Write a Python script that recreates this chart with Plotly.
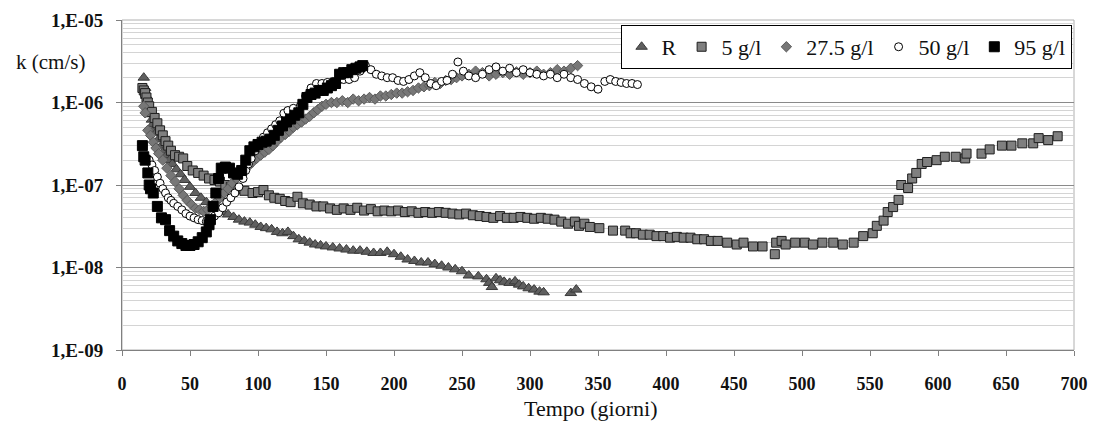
"""
Permeabilita k nel tempo per diverse concentrazioni (recreated with Plotly).
"""

import plotly.graph_objects as go

SERIF = "Liberation Serif"
W, H = 1097, 425
M_L, M_R, M_T, M_B = 122, 23, 20, 75

# ── Data ─────────────────────────────────────────────────────────────────────
r_days = [16, 17, 18, 19, 20, 21, 22, 23, 24, 25, 27, 29, 31, 33, 35, 37, 40,
          43, 46, 50, 54, 58, 62, 66, 70, 74, 78, 82, 86, 90, 94, 98, 102, 106,
          110, 114, 118, 122, 126, 130, 134, 138, 142, 146, 150, 155, 160, 165,
          170, 175, 180, 185, 190, 195, 200, 205, 210, 215, 220, 225, 230, 235,
          240, 245, 250, 255, 262, 268, 270, 272, 275, 278, 281, 285, 289, 292,
          295, 299, 303, 307, 310, 330, 334]
r_k = [2.0e-6, 1.5e-6, 1.2e-6, 1.0e-6, 8.5e-7, 7.2e-7, 6.2e-7, 5.5e-7, 4.8e-7,
       4.3e-7, 3.6e-7, 3.0e-7, 2.6e-7, 2.3e-7, 2.0e-7, 1.8e-7, 1.55e-7, 1.35e-7,
       1.15e-7, 9.5e-8, 8.0e-8, 7.0e-8, 6.2e-8, 5.6e-8, 5.1e-8, 4.7e-8, 4.4e-8,
       4.1e-8, 3.8e-8, 3.6e-8, 3.5e-8, 3.3e-8, 3.1e-8, 3.0e-8, 2.9e-8, 2.7e-8,
       2.6e-8, 2.7e-8, 2.4e-8, 2.2e-8, 2.1e-8, 2.0e-8, 1.9e-8, 1.85e-8, 1.8e-8,
       1.75e-8, 1.7e-8, 1.65e-8, 1.6e-8, 1.6e-8, 1.55e-8, 1.5e-8, 1.5e-8,
       1.55e-8, 1.45e-8, 1.35e-8, 1.25e-8, 1.2e-8, 1.15e-8, 1.15e-8, 1.1e-8,
       1.05e-8, 1.0e-8, 9.5e-9, 9.0e-9, 8.0e-9, 7.8e-9, 7.2e-9, 6.5e-9, 5.8e-9,
       7.4e-9, 7.0e-9, 6.7e-9, 6.5e-9, 6.8e-9, 6.2e-9, 5.9e-9, 5.6e-9, 5.4e-9,
       5.1e-9, 5.0e-9, 4.9e-9, 5.4e-9]

c5_days = [15, 16, 17, 18, 19, 20, 22, 24, 26, 28, 30, 32, 34, 36, 39, 42, 45,
           48, 52, 56, 60, 64, 68, 72, 76, 80, 85, 90, 96, 100, 104, 108, 112,
           116, 120, 124, 129, 133, 138, 143, 148, 153, 158, 163, 168, 173, 178,
           183, 188, 193, 198, 203, 208, 213, 218, 223, 228, 233, 238, 243, 248,
           253, 258, 263, 268, 273, 278, 283, 288, 293, 298, 303, 308, 313, 318,
           323, 328, 333, 336, 340, 344, 351, 361, 370, 374, 378, 383, 388, 393,
           398, 403, 408, 413, 418, 423, 428, 433, 438, 445, 452, 457, 464, 471,
           480, 481, 485, 488, 495, 502, 508, 515, 523, 530, 538, 545, 552, 555,
           560, 563, 567, 571, 573, 578, 581, 584, 588, 592, 599, 605, 613, 620,
           621, 632, 638, 647, 654, 662, 670, 674, 681, 688]
c5_k = [1.5e-6, 1.4e-6, 1.3e-6, 1.15e-6, 1.0e-6, 9.0e-7, 7.7e-7, 6.5e-7, 5.6e-7,
        4.6e-7, 4.0e-7, 3.4e-7, 3.0e-7, 2.6e-7, 2.3e-7, 2.2e-7, 2.1e-7, 1.7e-7,
        1.5e-7, 1.4e-7, 1.3e-7, 1.2e-7, 1.15e-7, 1.1e-7, 1.0e-7, 9.5e-8, 9.0e-8,
        8.5e-8, 8.0e-8, 8.2e-8, 8.7e-8, 7.5e-8, 7.0e-8, 6.8e-8, 6.4e-8, 6.2e-8,
        7.2e-8, 6.0e-8, 5.8e-8, 5.5e-8, 5.5e-8, 5.2e-8, 5.0e-8, 5.2e-8, 5.0e-8,
        5.3e-8, 4.9e-8, 5.1e-8, 4.8e-8, 4.9e-8, 4.8e-8, 4.9e-8, 4.7e-8, 4.8e-8,
        4.6e-8, 4.7e-8, 4.6e-8, 4.7e-8, 4.6e-8, 4.5e-8, 4.4e-8, 4.5e-8, 4.3e-8,
        4.2e-8, 4.1e-8, 4.0e-8, 4.2e-8, 4.0e-8, 4.0e-8, 4.1e-8, 4.0e-8, 3.9e-8,
        4.0e-8, 3.9e-8, 3.8e-8, 3.6e-8, 3.4e-8, 3.6e-8, 3.2e-8, 3.4e-8, 3.1e-8,
        3.0e-8, 2.8e-8, 2.8e-8, 2.6e-8, 2.6e-8, 2.5e-8, 2.5e-8, 2.4e-8, 2.4e-8,
        2.3e-8, 2.35e-8, 2.3e-8, 2.3e-8, 2.2e-8, 2.2e-8, 2.1e-8, 2.1e-8, 2.0e-8,
        1.9e-8, 2.0e-8, 1.8e-8, 1.8e-8, 1.45e-8, 2.0e-8, 2.1e-8, 1.9e-8, 2.0e-8,
        2.0e-8, 1.9e-8, 2.0e-8, 2.0e-8, 1.9e-8, 2.0e-8, 2.4e-8, 2.6e-8, 3.2e-8,
        3.7e-8, 4.7e-8, 5.4e-8, 6.6e-8, 1.0e-7, 9.2e-8, 1.2e-7, 1.4e-7, 1.8e-7,
        1.9e-7, 2.0e-7, 2.2e-7, 2.2e-7, 2.1e-7, 2.4e-7, 2.4e-7, 2.7e-7, 3.0e-7,
        3.0e-7, 3.2e-7, 3.2e-7, 3.7e-7, 3.5e-7, 3.9e-7]

c27_days = [16, 17, 19, 21, 23, 25, 27, 30, 33, 36, 39, 42, 45, 48, 51, 54, 57,
            60, 63, 66, 69, 72, 75, 78, 81, 84, 87, 90, 93, 96, 99, 102, 105,
            108, 111, 114, 117, 120, 123, 126, 129, 132, 135, 138, 141, 144,
            147, 150, 154, 158, 162, 166, 170, 174, 178, 182, 186, 190, 194,
            198, 202, 206, 210, 214, 218, 222, 226, 230, 234, 238, 242, 246,
            250, 255, 260, 265, 270, 275, 280, 285, 290, 295, 300, 305, 310,
            315, 320, 325, 330, 335]
c27_k = [9.0e-7, 7.5e-7, 4.6e-7, 4.0e-7, 3.3e-7, 2.8e-7, 2.4e-7, 2.0e-7, 1.6e-7,
         1.3e-7, 1.1e-7, 9.0e-8, 7.5e-8, 6.5e-8, 5.8e-8, 5.2e-8, 5.0e-8, 4.8e-8,
         5.0e-8, 5.5e-8, 6.2e-8, 7.0e-8, 8.0e-8, 9.0e-8, 1.05e-7, 1.2e-7,
         1.35e-7, 1.5e-7, 1.7e-7, 1.9e-7, 2.1e-7, 2.3e-7, 2.5e-7, 2.7e-7, 3.0e-7,
         3.4e-7, 3.8e-7, 4.1e-7, 4.5e-7, 5.0e-7, 5.4e-7, 5.8e-7, 6.3e-7, 6.8e-7,
         7.5e-7, 8.2e-7, 9.0e-7, 9.5e-7, 1.0e-6, 1.0e-6, 1.05e-6, 1.0e-6, 1.1e-6,
         1.05e-6, 1.1e-6, 1.15e-6, 1.1e-6, 1.2e-6, 1.2e-6, 1.25e-6, 1.3e-6,
         1.3e-6, 1.35e-6, 1.4e-6, 1.5e-6, 1.55e-6, 1.6e-6, 1.75e-6, 1.7e-6,
         1.85e-6, 1.9e-6, 2.0e-6, 2.1e-6, 2.2e-6, 2.4e-6, 2.3e-6, 2.1e-6, 2.2e-6,
         2.3e-6, 2.2e-6, 2.35e-6, 2.2e-6, 2.3e-6, 2.4e-6, 2.2e-6, 2.3e-6, 2.5e-6,
         2.4e-6, 2.6e-6, 2.8e-6]

c50_days = [20, 22, 24, 26, 28, 30, 32, 34, 36, 38, 41, 44, 47, 50, 53, 56, 59,
            62, 65, 68, 71, 74, 77, 80, 83, 86, 89, 91, 93, 95, 98, 101, 104,
            107, 110, 113, 116, 119, 122, 126, 131, 135, 139, 143, 147, 151, 155,
            159, 163, 167, 171, 175, 179, 183, 187, 191, 195, 199, 203, 207, 211,
            215, 219, 223, 227, 231, 235, 239, 243, 247, 251, 255, 260, 265, 270,
            275, 280, 285, 290, 295, 300, 305, 310, 315, 320, 325, 330, 335, 340,
            345, 350, 355, 359, 363, 367, 371, 375, 379]
c50_k = [2.0e-7, 1.75e-7, 1.5e-7, 1.25e-7, 1.05e-7, 9.0e-8, 8.0e-8, 7.0e-8,
         6.5e-8, 6.0e-8, 5.5e-8, 5.0e-8, 4.5e-8, 4.2e-8, 4.0e-8, 3.8e-8, 3.7e-8,
         3.6e-8, 3.8e-8, 4.2e-8, 4.6e-8, 5.3e-8, 6.2e-8, 7.0e-8, 8.0e-8, 9.5e-8,
         1.2e-7, 1.5e-7, 1.8e-7, 2.1e-7, 2.6e-7, 3.2e-7, 3.8e-7, 4.3e-7, 4.8e-7,
         5.4e-7, 6.0e-7, 7.4e-7, 8.0e-7, 8.5e-7, 9.0e-7, 1.2e-6, 1.5e-6, 1.7e-6,
         1.7e-6, 1.75e-6, 1.8e-6, 1.85e-6, 1.9e-6, 1.9e-6, 2.0e-6, 2.4e-6,
         2.8e-6, 2.5e-6, 2.2e-6, 2.1e-6, 2.0e-6, 2.0e-6, 1.85e-6, 1.8e-6, 1.9e-6,
         2.1e-6, 2.3e-6, 2.0e-6, 1.7e-6, 1.6e-6, 1.8e-6, 1.85e-6, 2.2e-6, 3.1e-6,
         2.4e-6, 2.1e-6, 2.0e-6, 2.2e-6, 2.5e-6, 2.7e-6, 2.4e-6, 2.6e-6, 2.3e-6,
         2.5e-6, 2.3e-6, 2.2e-6, 2.1e-6, 2.2e-6, 2.0e-6, 2.2e-6, 2.0e-6, 1.9e-6,
         1.7e-6, 1.55e-6, 1.45e-6, 1.8e-6, 1.9e-6, 1.8e-6, 1.75e-6, 1.7e-6,
         1.7e-6, 1.65e-6]

c95_days = [15, 16, 17, 19, 20, 21, 23, 26, 29, 32, 35, 38, 41, 44, 47, 50, 53,
            56, 59, 62, 64, 65, 67, 69, 71, 73, 76, 79, 82, 85, 88, 91, 94, 97,
            100, 103, 106, 109, 112, 115, 118, 121, 124, 127, 130, 133, 136, 139,
            142, 145, 148, 151, 154, 157, 160, 163, 166, 169, 172, 175, 177]
c95_k = [3.0e-7, 2.2e-7, 2.0e-7, 1.4e-7, 1.0e-7, 9.0e-8, 8.0e-8, 5.5e-8, 4.0e-8,
         3.8e-8, 2.8e-8, 2.4e-8, 2.1e-8, 1.95e-8, 1.85e-8, 1.85e-8, 1.9e-8,
         2.05e-8, 2.3e-8, 2.7e-8, 3.3e-8, 3.8e-8, 5.5e-8, 8.0e-8, 1.2e-7, 1.6e-7,
         1.65e-7, 1.6e-7, 1.4e-7, 1.35e-7, 1.5e-7, 2.0e-7, 2.6e-7, 2.9e-7,
         3.1e-7, 3.3e-7, 3.4e-7, 3.6e-7, 4.0e-7, 4.6e-7, 5.2e-7, 5.8e-7, 6.3e-7,
         7.0e-7, 7.5e-7, 9.5e-7, 1.15e-6, 1.25e-6, 1.3e-6, 1.4e-6, 1.4e-6,
         1.5e-6, 1.6e-6, 1.7e-6, 2.2e-6, 2.3e-6, 2.3e-6, 2.5e-6, 2.6e-6, 2.7e-6,
         2.8e-6]

y_tickvals = [1e-9, 1e-8, 1e-7, 1e-6, 1e-5]
y_ticktext = ["1,E-09", "1,E-08", "1,E-07", "1,E-06", "1,E-05"]
y_minor = [m * 10 ** e for e in range(-9, -5) for m in range(2, 10)]
x_tickvals = list(range(0, 701, 50))

# ── Series styles ────────────────────────────────────────────────────────────
series = [
    ("R", r_days, r_k, "triangle-up", 10, "#5f5f5f", "#3a3a3a"),
    ("5 g/l", c5_days, c5_k, "square", 9, "#7f7f7f", "#1e1e1e"),
    ("27.5 g/l", c27_days, c27_k, "diamond", 8, "#777777", "#5a5a5a"),
    ("50 g/l", c50_days, c50_k, "circle", 8, "#ffffff", "#000000"),
    ("95 g/l", c95_days, c95_k, "square", 10, "#000000", "#000000"),
]

fig = go.Figure()
for name, xs, ys, symbol, size, fill, line in series:
    fig.add_trace(go.Scatter(
        x=xs, y=ys, mode="markers", name=name,
        marker=dict(symbol=symbol, size=size, color=fill,
                    line=dict(color=line, width=1)),
    ))


def px_to_paper(x, y):
    """Pixel position in the page -> paper coordinates of the plot area."""
    pw, ph = W - M_L - M_R, H - M_T - M_B
    return (x - M_L) / pw, (H - M_B - y) / ph


kx, ky = px_to_paper(50, 62)
tx, ty = px_to_paper(590, 408)

fig.update_layout(
    width=W, height=H,
    margin=dict(l=M_L, r=M_R, t=M_T, b=M_B),
    paper_bgcolor="white", plot_bgcolor="white",
    font=dict(family=SERIF, size=18, color="#111111"),
    legend=dict(
        orientation="h", x=0.9975, xanchor="right", y=0.985, yanchor="top",
        bgcolor="white", bordercolor="#000000", borderwidth=1,
        font=dict(family=SERIF, size=22, color="#111111"),
        itemwidth=30, tracegroupgap=0,
    ),
    annotations=[
        dict(text="k (cm/s)", x=kx, y=ky, xref="paper", yref="paper",
             xanchor="center", yanchor="middle", showarrow=False,
             font=dict(family=SERIF, size=21)),
        dict(text="Tempo (giorni)", x=tx, y=ty, xref="paper", yref="paper",
             xanchor="center", yanchor="middle", showarrow=False,
             font=dict(family=SERIF, size=22)),
    ],
)

fig.update_xaxes(
    range=[0, 700], tickvals=x_tickvals, showgrid=False, zeroline=False,
    showline=True, linecolor="#808080", linewidth=1, automargin=False,
    ticks="outside", ticklen=5, tickcolor="#808080", ticklabelstandoff=12,
    tickfont=dict(family=SERIF, size=18, weight="bold", color="#111111"),
)
fig.update_yaxes(
    type="log", range=[-9, -5], tickvals=y_tickvals, ticktext=y_ticktext,
    showgrid=True, gridcolor="#8a8a8a", gridwidth=1, zeroline=False,
    showline=True, linecolor="#808080", linewidth=1, automargin=False,
    ticks="outside", ticklen=5, tickcolor="#808080", ticklabelstandoff=9,
    tickfont=dict(family=SERIF, size=19, weight="bold", color="#111111"),
    minor=dict(tickvals=y_minor, showgrid=True, gridcolor="#d4d4d4",
               gridwidth=1, ticks=""),
)
# light plot-area border on top and right
fig.add_shape(type="rect", xref="x domain", yref="y domain",
              x0=0, x1=1, y0=0, y1=1, line=dict(color="#b0b0b0", width=1),
              layer="below")

# the page body has a default 8px margin; drop it so the chart sits at 0,0
fig.write_html("out.html", config={"displayModeBar": False},
               post_script="document.body.style.margin='0';")
